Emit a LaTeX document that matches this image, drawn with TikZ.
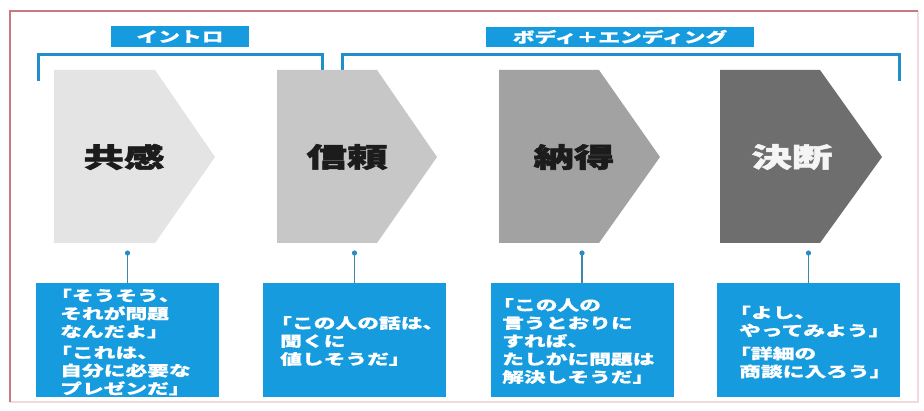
\documentclass[tikz,border=0pt]{standalone}
\usepackage{fontspec}
\newfontfamily\jp[FakeStretch=1.5,BoldFeatures={FakeBold=0.6}]{Noto Sans CJK JP}
\newfontfamily\jph[FakeStretch=1.5,BoldFeatures={FakeBold=2}]{Noto Sans CJK JP}
\newcommand\hq{\kern-10pt「}
\definecolor{jblue}{RGB}{22,155,222}
\definecolor{lineblue}{RGB}{32,142,200}
\definecolor{stem}{RGB}{62,135,168}
\definecolor{dotblue}{RGB}{40,140,200}
\definecolor{framecol}{RGB}{200,122,130}
\definecolor{framelight}{RGB}{240,218,220}
\definecolor{cA}{RGB}{228,228,228}
\definecolor{cB}{RGB}{199,199,199}
\definecolor{cC}{RGB}{162,162,162}
\definecolor{cD}{RGB}{110,110,110}
\definecolor{ink}{RGB}{28,28,28}
\tikzset{
  tag/.style={fill=jblue, inner sep=0pt, text=white, font=\jp\bfseries\fontsize{14.5}{16}\selectfont},
  bracket/.style={draw=lineblue, line width=3pt},
  title/.style={inner sep=0pt, font=\jph\bfseries\fontsize{27}{30}\selectfont},
  quotebox/.style={fill=jblue, inner sep=0pt, minimum width=183pt, minimum height=114pt},
  quotetext/.style={inner sep=0pt, anchor=west, align=left, text=white, font=\jp\bfseries\fontsize{14.5}{18}\selectfont},
  stemline/.style={draw=stem, line width=1.8pt}
}
\begin{document}
\begin{tikzpicture}[x=1pt,y=-1pt]
\useasboundingbox (0,0) rectangle (924,411);
\fill[white] (0,0) rectangle (924,411);
% frame
\draw[framelight, line width=1.2pt] (918,11) -- (918,402) -- (10,402);
\draw[framecol, line width=1.4pt] (10,402) -- (10,11) -- (918,11);
% labels
\node[tag, minimum width=138pt, minimum height=21pt] (intro) at (180,36.5) {イントロ};
\node[tag, minimum width=268pt, minimum height=20pt] (body) at (620,37) {ボディ＋エンディング};
% brackets
\draw[bracket] (38,81) -- (38,55) -- (322,55) -- (322,81);
\draw[bracket] (342,81) -- (342,55) -- (899,55) -- (899,81);
% chevrons
\fill[cA] (54,70) -- (155,70) -- (215,157) -- (155,243) -- (54,243) -- cycle;
\fill[cB] (277,70) -- (377,70) -- (437,157) -- (377,243) -- (277,243) -- cycle;
\fill[cC] (499,70) -- (599,70) -- (660,157) -- (599,243) -- (499,243) -- cycle;
\fill[cD] (720,70) -- (820,70) -- (882,157) -- (820,243) -- (720,243) -- cycle;
\node[title, text=ink] (t1) at (124,157) {共感};
\node[title, text=ink] (t2) at (347,157) {信頼};
\node[title, text=ink] (t3) at (574,157) {納得};
\node[title, text=white!96!black] (t4) at (792,157) {決断};
% quote boxes
\node[quotebox] (b1) at (127.5,340) {};
\node[quotebox] (b2) at (354.5,340) {};
\node[quotebox] (b3) at (582,340) {};
\node[quotebox] (b4) at (808.5,340) {};
\node[quotetext] (q1) at (60,342) {\hq そうそう、\\それが問題\\なんだよ」\\[3pt]\hq これは、\\自分に必要な\\プレゼンだ」};
\node[quotetext] (q2) at (280,341) {\hq この人の話は、\\聞くに\\値しそうだ」};
\node[quotetext] (q3) at (502,341) {\hq この人の\\言うとおりに\\すれば、\\たしかに問題は\\解決しそうだ」};
\node[quotetext] (q4) at (739,342) {\hq よし、\\やってみよう」\\[5pt]\hq 詳細の\\商談に入ろう」};
% stems
\coordinate (d1) at (127.5,253);
\coordinate (d2) at (354.5,253);
\coordinate (d3) at (582,253);
\coordinate (d4) at (808.5,253);
\foreach \i in {1,2,3,4}{
  \draw[stemline] (d\i) -- (b\i.north);
  \fill[dotblue] (d\i) circle (2.6pt);
}
\end{tikzpicture}
\end{document}
